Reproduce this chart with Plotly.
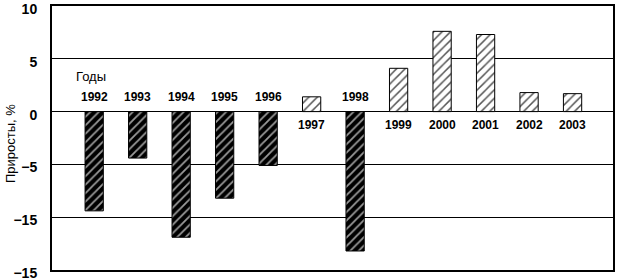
import plotly.graph_objects as go

years = [1992, 1993, 1994, 1995, 1996, 1997, 1998, 1999, 2000, 2001, 2002, 2003]
values = [-9.4, -4.4, -11.9, -8.2, -5.1, 1.4, -13.2, 4.1, 7.6, 7.3, 1.8, 1.7]
tick_vals = [10, 5, 0, -5, -10, -15]
tick_text = ["10", "5", "0", "\u22125", "\u221215", "\u221215"]
y_title = "Приросты, %"
years_label = "Годы"

neg_x = [y for y, v in zip(years, values) if v < 0]
neg_y = [v for v in values if v < 0]
pos_x = [y for y, v in zip(years, values) if v >= 0]
pos_y = [v for v in values if v >= 0]

FONT = "Liberation Sans, Arial, sans-serif"

fig = go.Figure()
fig.add_trace(go.Bar(
    x=neg_x, y=neg_y, width=0.42,
    marker=dict(color="black", line=dict(color="black", width=1),
                pattern=dict(shape="/", bgcolor="black", fgcolor="#9a9a9a",
                             size=6, solidity=0.3, fillmode="replace")),
    showlegend=False, hoverinfo="skip"))
fig.add_trace(go.Bar(
    x=pos_x, y=pos_y, width=0.42,
    marker=dict(color="white", line=dict(color="black", width=1),
                pattern=dict(shape="/", bgcolor="white", fgcolor="#555555",
                             size=6, solidity=0.25, fillmode="replace")),
    showlegend=False, hoverinfo="skip"))

annotations = []
for yr, v in zip(years, values):
    annotations.append(dict(
        x=yr, y=0, xref="x", yref="y", text=f"<b>{yr}</b>", showarrow=False,
        font=dict(family=FONT, size=12, color="black"),
        yshift=15 if v < 0 else -13, xanchor="center", yanchor="middle"))
annotations.append(dict(
    x=years[0], y=0, xref="x", yref="y", text=years_label, showarrow=False,
    font=dict(family=FONT, size=13, color="black"),
    xshift=-20, yshift=35, xanchor="left", yanchor="middle"))
annotations.append(dict(
    x=-42 / 561, y=0.5 - 6 / 264, xref="paper", yref="paper", text=y_title,
    textangle=-90, showarrow=False, xanchor="center", yanchor="middle",
    font=dict(family=FONT, size=13, color="black")))

fig.update_layout(
    width=617, height=280,
    margin=dict(l=52, r=4, t=6, b=10, autoexpand=False),
    paper_bgcolor="white", plot_bgcolor="white",
    barmode="overlay",
    annotations=annotations,
    xaxis=dict(range=[1991.03, 2003.93], showticklabels=False, showgrid=False,
               zeroline=False, showline=True, mirror=True, linecolor="black",
               linewidth=2, ticks="", automargin=False),
    yaxis=dict(range=[-15, 10], tickvals=tick_vals, ticktext=tick_text,
               tickfont=dict(family=FONT, size=14, color="black", weight="bold"),
               showgrid=True, gridcolor="black", gridwidth=1.3,
               zeroline=False, showline=True, mirror=True, linecolor="black",
               linewidth=2, ticks="", ticklabelstandoff=10, ticklabelshift=3,
               ticklabeloverflow="allow", automargin=False),
)

fig.write_html("out.html")
